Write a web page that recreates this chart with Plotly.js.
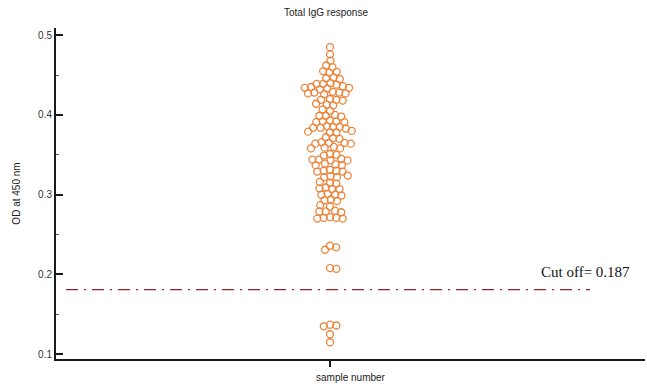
<!DOCTYPE html>
<html>
<head>
<meta charset="utf-8">
<script src="https://cdn.plot.ly/plotly-3.0.1.min.js"></script>
<style>html,body{margin:0;padding:0;background:#fff;}#chart{width:647px;height:384px;}</style>
</head>
<body>
<div id="chart"></div>
<script>
// OD at 450 nm values (one per sample)
const odValues = [
  0.485, 0.476, 0.468,
  0.462, 0.460,
  0.455, 0.454, 0.453,
  0.447, 0.446, 0.445,
  0.440, 0.439, 0.439, 0.438,
  0.436, 0.435, 0.434, 0.434, 0.433, 0.432,
  0.429, 0.428, 0.428, 0.427, 0.427, 0.426,
  0.420, 0.419, 0.419, 0.418,
  0.414, 0.413, 0.412,
  0.407, 0.405,
  0.400, 0.399, 0.399, 0.398,
  0.393, 0.392, 0.392, 0.391, 0.391,
  0.386, 0.385, 0.385, 0.384, 0.384, 0.383,
  0.380, 0.379, 0.378, 0.378,
  0.372, 0.371, 0.370,
  0.366, 0.365, 0.365, 0.364, 0.364,
  0.360, 0.359, 0.358, 0.358,
  0.351, 0.350, 0.349,
  0.345, 0.344, 0.344, 0.343, 0.343,
  0.339, 0.338, 0.337, 0.337,
  0.331, 0.330, 0.330, 0.329, 0.329,
  0.324, 0.323, 0.322, 0.322,
  0.316, 0.315, 0.314,
  0.309, 0.308, 0.307, 0.307,
  0.301, 0.300, 0.300, 0.299,
  0.294, 0.293, 0.292,
  0.287, 0.285,
  0.280, 0.279, 0.279, 0.278,
  0.272, 0.271, 0.271, 0.270, 0.270,
  0.236, 0.234, 0.231,
  0.208, 0.207,
  0.137, 0.136, 0.135,
  0.125, 0.115
];
const cutoffLevel = 0.181;
const cutoffLabel = 'Cut off= 0.187';
const yTickVals = [0.1, 0.2, 0.3, 0.4, 0.5];
const yTickText = ['0.1', '0.2', '0.3', '0.4', '0.5'];
const chartTitle = 'Total IgG response';
const xTitle = 'sample number';
const yTitle = 'OD at 450 nm';

// layout geometry
const W = 647, H = 384;
const M = {l: 56, r: 2, t: 28, b: 25};
const yRange = [0.094, 0.509];
const plotW = W - M.l - M.r;
const plotH = H - M.t - M.b;
const centerFrac = (330 - M.l) / plotW;
// x axis in pixel units, sample column at 0
const xRange = [-centerFrac * plotW, (1 - centerFrac) * plotW];

// beeswarm layout (pixel-space collision avoidance)
const D = 6.4;
const ppy = plotH / (yRange[1] - yRange[0]);
const order = odValues.map((v, i) => i).sort((a, b) => odValues[b] - odValues[a]);
const placed = [];
const xs = new Array(odValues.length);
order.forEach(i => {
  const yp = odValues[i] * ppy;
  const cands = [0];
  placed.forEach(p => {
    const dy = Math.abs(p.y - yp);
    if (dy < D) {
      const dx = Math.sqrt(D * D - dy * dy);
      cands.push(p.x + dx, p.x - dx);
    }
  });
  cands.sort((a, b) => Math.abs(a) - Math.abs(b));
  let chosen = 0;
  for (const c of cands) {
    const ok = placed.every(p => (p.x - c) ** 2 + (p.y - yp) ** 2 >= D * D - 1e-6);
    if (ok) { chosen = c; break; }
  }
  placed.push({x: chosen, y: yp});
  xs[i] = chosen;
});

const trace = {
  x: xs, y: odValues, type: 'scatter', mode: 'markers',
  marker: {symbol: 'circle-open', size: 7, color: 'rgb(236,132,58)', line: {width: 1.3, color: 'rgb(236,132,58)'}},
  hoverinfo: 'y', showlegend: false
};

const layout = {
  width: W, height: H,
  margin: M,
  paper_bgcolor: '#fff', plot_bgcolor: '#fff',
  font: {family: 'Liberation Sans, Arial, sans-serif', size: 10, color: '#333'},
  title: {text: chartTitle, font: {size: 10, color: '#222'}, x: 326 / W, xanchor: 'center', y: 1 - 12 / H, yanchor: 'middle', xref: 'container', yref: 'container'},
  xaxis: {
    range: xRange, showgrid: false, zeroline: false,
    showline: true, linecolor: '#1a1a1a', linewidth: 2,
    tickvals: [0], ticktext: [''], ticks: 'outside', ticklen: 6, tickwidth: 2, tickcolor: '#1a1a1a',
    title: {text: xTitle, font: {size: 10, color: '#222'}, standoff: 6}
  },
  yaxis: {
    range: yRange, showgrid: false, zeroline: false,
    showline: true, linecolor: '#1a1a1a', linewidth: 2,
    tickvals: yTickVals, ticktext: yTickText,
    ticks: 'inside', ticklen: 7, tickwidth: 2, tickcolor: '#1a1a1a',
    minor: {ticks: 'inside', ticklen: 3, tickwidth: 1, tickcolor: '#555', dtick: 0.05, tick0: 0.05},
    tickfont: {size: 10, color: '#333'},
    title: {text: yTitle, font: {size: 10, color: '#222'}, standoff: 16}
  },
  shapes: [{
    type: 'line', xref: 'paper', yref: 'y',
    x0: (66 - M.l) / plotW, x1: (590 - M.l) / plotW,
    y0: cutoffLevel, y1: cutoffLevel,
    line: {color: 'rgb(150,35,45)', width: 1.3, dash: '12px,6px,2px,6px'}
  }],
  annotations: [{
    xref: 'paper', yref: 'y', x: (539 - M.l) / plotW, y: cutoffLevel + 18 / ppy,
    xanchor: 'left', yanchor: 'middle', showarrow: false,
    text: cutoffLabel, font: {family: 'Liberation Serif, Times New Roman, serif', size: 15, color: '#111'}
  }]
};

Plotly.newPlot('chart', [trace], layout, {displayModeBar: false, staticPlot: true});
</script>
</body>
</html>
